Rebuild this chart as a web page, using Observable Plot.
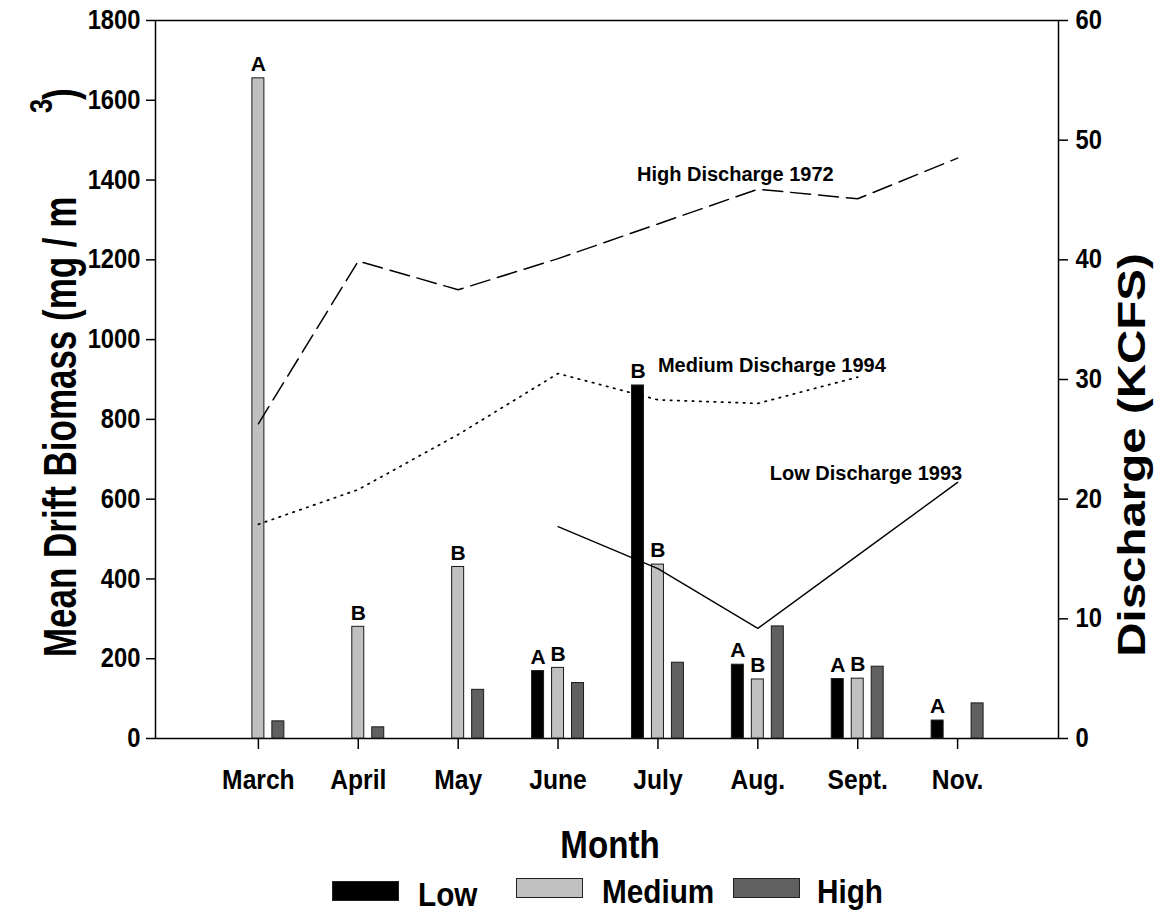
<!DOCTYPE html>
<html>
<head>
<meta charset="utf-8">
<script src="https://cdn.jsdelivr.net/npm/d3@7"></script>
<script src="https://cdn.jsdelivr.net/npm/@observablehq/plot@0.6"></script>
<style>
  body { margin: 0; background: #fff; font-family: "Liberation Sans", Arial, sans-serif; }
  #wrap { position: relative; width: 1155px; height: 915px; overflow: hidden; }
  #legend { position: relative; width: 1155px; height: 55px; font-weight: bold; }
  .sw { position: absolute; box-sizing: border-box; border: 1px solid #222; }
  .lt { position: absolute; font-size: 33px; line-height: 28px; white-space: nowrap;
        transform: scaleX(0.9); transform-origin: left top; }
</style>
</head>
<body>
<div id="wrap">
  <div id="chart"></div>
  <div id="legend"></div>
</div>
<script>
// Sampling months
const months = ["March", "April", "May", "June", "July", "Aug.", "Sept.", "Nov."];

// Mean drift biomass (mg / m3) per discharge year
const lowBiomass    = [null, null, null, 169, 885, 185, 149, 45];
const mediumBiomass = [1655, 280, 430, 177, 436, 148, 150, null];
const highBiomass   = [43, 28, 122, 139, 190, 281, 180, 88];

// Significance letters printed above the bars
const lowLetters    = [null, null, null, "A", "B", "A", "A", "A"];
const mediumLetters = ["A", "B", "B", "B", "B", "B", "B", null];

// Monthly discharge (KCFS)
const highDischarge1972   = [26.3, 39.9, 37.5, 40.1, 43.0, 45.9, 45.1, 48.5];
const mediumDischarge1994 = [17.9, 20.8, 25.4, 30.5, 28.3, 28.0, 30.2, null];
const lowDischarge1993    = [null, null, null, 17.7, 14.2, 9.2, 15.3, 21.4];

const seriesNames = ["Low", "Medium", "High"];
const seriesFills = ["#000000", "#c0c0c0", "#606060"];

// Discharge is drawn against the biomass scale: 60 KCFS spans 1800 mg/m3
const K = 1800 / 60;

// Bars sit left / centre / right of each month tick
const offset = {Low: -0.2, Medium: 0, High: 0.2};
const halfBar = 0.06;

const bars = months.flatMap((m, i) => [
  {i, series: "Low", value: lowBiomass[i], letter: lowLetters[i]},
  {i, series: "Medium", value: mediumBiomass[i], letter: mediumLetters[i]},
  {i, series: "High", value: highBiomass[i], letter: null}
]).filter(d => d.value != null);

const toLine = arr => arr.map((q, i) => ({i, q})).filter(d => d.q != null);

// Line annotations, placed in month / discharge units
const lineLabels = [
  {i: 3.79, q: 47.1, label: "High Discharge 1972"},
  {i: 4.00, q: 31.2, label: "Medium Discharge 1994"},
  {i: 5.12, q: 22.1, label: "Low Discharge 1993"}
];

const H = 860;
const FONT = "Liberation Sans, Arial, sans-serif";

const chart = Plot.plot({
  width: 1155,
  height: H,
  marginLeft: 155,
  marginRight: 97,
  marginTop: 20,
  marginBottom: H - 738,
  style: {fontFamily: FONT, fontWeight: "bold", color: "black", background: "white", overflow: "visible"},
  x: {type: "linear", domain: [-1.03, 8.01], axis: null, label: null},
  y: {domain: [0, 1800], axis: null, label: null},
  color: {domain: seriesNames, range: seriesFills},
  marks: [
    Plot.frame({stroke: "black", strokeWidth: 1.5}),
    Plot.rectY(bars, {
      x1: d => d.i + offset[d.series] - halfBar,
      x2: d => d.i + offset[d.series] + halfBar,
      y1: 0,
      y2: "value",
      fill: "series",
      stroke: "#1a1a1a",
      strokeWidth: 1
    }),
    Plot.text(bars.filter(d => d.letter), {
      x: d => d.i + offset[d.series],
      y: "value",
      text: "letter",
      dy: -14,
      fontSize: 21,
      fontWeight: "bold",
      fill: "black"
    }),
    Plot.line(toLine(highDischarge1972), {
      x: "i", y: d => d.q * K, stroke: "black", strokeWidth: 1.5, strokeDasharray: "20,8"
    }),
    Plot.line(toLine(mediumDischarge1994), {
      x: "i", y: d => d.q * K, stroke: "black", strokeWidth: 1.7, strokeDasharray: "1.5,5.8"
    }),
    Plot.line(toLine(lowDischarge1993), {
      x: "i", y: d => d.q * K, stroke: "black", strokeWidth: 1.4
    }),
    Plot.text(lineLabels, {
      x: "i", y: d => d.q * K, text: "label", textAnchor: "start",
      fontSize: 20, fontWeight: "bold", fill: "black"
    }),
    Plot.axisX({
      ticks: d3.range(months.length), tickFormat: i => months[i],
      tickSize: 11, tickPadding: 20, fontSize: 28, strokeWidth: 1.5, label: null
    }),
    Plot.axisY({
      anchor: "left", ticks: d3.range(0, 1801, 200), tickFormat: "d",
      tickSize: 9, tickPadding: 6, fontSize: 27, strokeWidth: 1.5, label: null
    }),
    Plot.axisY({
      anchor: "right", ticks: d3.range(0, 61, 10).map(v => v * K), tickFormat: v => String(v / K),
      tickSize: 9, tickPadding: 8, fontSize: 27, strokeWidth: 1.5, label: null
    })
  ]
});

document.getElementById("chart").appendChild(chart);

// Narrow the tick labels a little, around their own anchor
const svg = d3.select(chart);
svg.selectAll('g[aria-label$="tick label"] text').each(function () {
  const t = this.getAttribute("transform") || "";
  this.setAttribute("transform", t + " scale(0.88,1)");
});

// Axis titles
function title(txt, x, y, size, sx, rot, anchor) {
  svg.append("text")
    .attr("transform", `translate(${x},${y}) rotate(${rot}) scale(${sx},1)`)
    .attr("font-family", FONT).attr("font-weight", "bold").attr("font-size", size)
    .attr("text-anchor", anchor).attr("fill", "black")
    .text(txt);
}
title("Mean Drift Biomass (mg / m", 76, 657, 46, 0.76, -90, "start");
title("3", 52, 113, 32, 0.8, -90, "start");
title(")", 76, 100, 46, 0.76, -90, "start");
title("Discharge (KCFS)", 1145, 455, 38, 1.25, -90, "middle");
title("Month", 610, 858, 39, 0.85, 0, "middle");

// Legend beneath the plot
const legendTop = H;
const legendItems = [
  {name: "Low", fill: seriesFills[0], sx: 332, sy: 881, tx: 418, base: 907},
  {name: "Medium", fill: seriesFills[1], sx: 516, sy: 878, tx: 602, base: 904},
  {name: "High", fill: seriesFills[2], sx: 733, sy: 878, tx: 817, base: 904}
];
const legend = document.getElementById("legend");
for (const it of legendItems) {
  const sw = document.createElement("div");
  sw.className = "sw";
  sw.style.left = it.sx + "px";
  sw.style.top = (it.sy - legendTop) + "px";
  sw.style.width = "67px";
  sw.style.height = "20px";
  sw.style.background = it.fill;
  legend.appendChild(sw);
  const tx = document.createElement("div");
  tx.className = "lt";
  tx.textContent = it.name;
  tx.style.left = it.tx + "px";
  tx.style.top = (it.base - 26 - legendTop) + "px";
  legend.appendChild(tx);
}
</script>
</body>
</html>
